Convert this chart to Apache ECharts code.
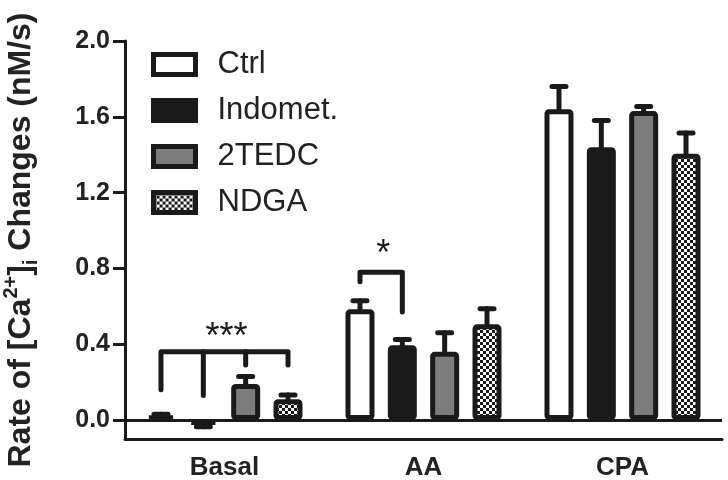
<!DOCTYPE html>
<html>
<head>
<meta charset="utf-8">
<script src="https://cdn.jsdelivr.net/npm/echarts@6/dist/echarts.min.js"></script>
<style>html,body{margin:0;padding:0;background:#fff}#c{width:728px;height:480px}</style>
</head>
<body>
<div id="c"></div>
<script>
// ---- data ----
const categories = ['Basal', 'AA', 'CPA'];
const seriesNames = ['Ctrl', 'Indomet.', '2TEDC', 'NDGA'];
const ctrl = [0.025, 0.585, 1.64];
const ctrlErr = [0.005, 0.045, 0.12];
const indomet = [-0.025, 0.395, 1.44];
const indometErr = [0.01, 0.03, 0.14];
const tedc = [0.19, 0.36, 1.63];
const tedcErr = [0.04, 0.1, 0.025];
const ndga = [0.11, 0.505, 1.405];
const ndgaErr = [0.022, 0.082, 0.11];
const yTicks = [0.0, 0.4, 0.8, 1.2, 1.6, 2.0];
// significance brackets (category, bar indices, heights in data units)
const brackets = [
  { cat: 0, y: 0.36, legs: [[0, 0.16], [1, 0.13], [2, 0.29], [3, 0.29]], label: '***', labelY: 0.43 },
  { cat: 1, y: 0.78, legs: [[0, 0.73], [1, 0.57]], label: '*', labelY: 0.87 }
];

const values = [ctrl, indomet, tedc, ndga];
const errors = [ctrlErr, indometErr, tedcErr, ndgaErr];

// ---- styles ----
const INK = '#1a1a1a';
const BW = 29, GAP = 46; // bar width px, bar gap %
const STEP = BW * (1 + GAP / 100);
const FONT = 'Liberation Sans, Arial, sans-serif';

const pat = document.createElement('canvas');
pat.width = 6; pat.height = 6;
const pc = pat.getContext('2d');
pc.fillStyle = '#fff'; pc.fillRect(0, 0, 6, 6);
pc.fillStyle = '#1a1a1a'; pc.fillRect(0, 0, 3, 3); pc.fillRect(3, 3, 3, 3);

const fills = ['#ffffff', INK, '#7c7c7c', { image: pat, repeat: 'repeat' }];

const barSeries = seriesNames.map((n, i) => ({
  name: n,
  type: 'bar',
  data: values[i],
  barWidth: BW,
  barGap: GAP + '%',
  itemStyle: { color: fills[i], borderColor: INK, borderWidth: 5, borderRadius: 2 },
  z: 3,
  markLine: i === 0 ? {
    silent: true, symbol: ['none', 'none'], label: { show: false },
    lineStyle: { color: INK, width: 3, type: 'solid' },
    data: [{ yAxis: 0 }]
  } : undefined
}));

const errData = [];
values.forEach((arr, s) => arr.forEach((v, c) => errData.push([c, s, v, errors[s][c]])));

const errSeries = {
  type: 'custom',
  z: 2,
  silent: true,
  encode: { x: 0, y: 2 },
  data: errData,
  renderItem: function (params, api) {
    const c = api.value(0), s = api.value(1), v = api.value(2), e = api.value(3);
    const dir = v >= 0 ? 1 : -1;
    const p0 = api.coord([c, v]);
    const p1 = api.coord([c, v + dir * e]);
    const x = p0[0] + (s - 1.5) * STEP;
    const st = { stroke: INK, lineWidth: 5, lineCap: 'round' };
    return {
      type: 'group',
      children: [
        { type: 'line', shape: { x1: x, y1: p0[1], x2: x, y2: p1[1] }, style: st },
        { type: 'line', shape: { x1: x - 7, y1: p1[1], x2: x + 7, y2: p1[1] }, style: st }
      ]
    };
  }
};

const brSeries = {
  type: 'custom',
  z: 4,
  silent: true,
  encode: { x: 0, y: 1 },
  data: brackets.map(b => [b.cat, b.y]),
  renderItem: function (params, api) {
    const b = brackets[params.dataIndex];
    const base = api.coord([b.cat, b.y]);
    const xs = b.legs.map(l => base[0] + (l[0] - 1.5) * STEP);
    const st = { stroke: INK, lineWidth: 5, lineCap: 'round', lineJoin: 'round', fill: null };
    const children = [];
    const first = b.legs[0], last = b.legs[b.legs.length - 1];
    children.push({
      type: 'polyline',
      shape: { points: [[xs[0], api.coord([b.cat, first[1]])[1]], [xs[0], base[1]], [xs[xs.length - 1], base[1]], [xs[xs.length - 1], api.coord([b.cat, last[1]])[1]]] },
      style: st
    });
    for (let k = 1; k < b.legs.length - 1; k++) {
      children.push({
        type: 'line',
        shape: { x1: xs[k], y1: base[1], x2: xs[k], y2: api.coord([b.cat, b.legs[k][1]])[1] },
        style: st
      });
    }
    const ly = api.coord([b.cat, b.labelY])[1];
    children.push({
      type: 'text',
      style: { text: b.label, x: (xs[0] + xs[xs.length - 1]) / 2 + 2, y: ly, align: 'center', verticalAlign: 'middle', fontSize: 36, fontFamily: FONT, fill: INK }
    });
    return { type: 'group', children };
  }
};

const chart = echarts.init(document.getElementById('c'), null, { renderer: 'canvas' });
chart.setOption({
  animation: false,
  backgroundColor: '#fff',
  grid: { left: 125, right: 6, top: 41, bottom: 41, containLabel: false, outerBoundsMode: 'none' },
  legend: {
    data: seriesNames,
    orient: 'vertical',
    left: 151, top: 49, padding: 0,
    itemWidth: 42, itemHeight: 20, itemGap: 15,
    icon: 'rect',
    itemStyle: { borderWidth: 5, borderColor: INK },
    textStyle: { fontFamily: FONT, fontSize: 31, color: '#222', padding: [0, 0, 0, 17] }
  },
  xAxis: {
    type: 'category',
    data: categories,
    axisLine: { onZero: false, lineStyle: { color: INK, width: 3 } },
    axisTick: { alignWithLabel: true, length: 12, lineStyle: { color: INK, width: 3 } },
    axisLabel: { fontFamily: FONT, fontWeight: 'bold', fontSize: 26, color: '#222', margin: 16 },
    splitLine: { show: false }
  },
  yAxis: {
    type: 'value',
    min: -0.1, max: 2.0,
    name: 'Rate of [Ca{sup|2+}]{sub|i} Changes (nM/s)',
    nameLocation: 'middle',
    nameRotate: 90,
    nameGap: 84,
    nameTextStyle: {
      fontFamily: FONT, fontWeight: 'bold', fontSize: 32, color: '#222', lineHeight: 40,
      rich: {
        sup: { fontFamily: FONT, fontWeight: 'bold', fontSize: 20, color: '#222', verticalAlign: 'top', lineHeight: 40, padding: [0, 0, 10, 0] },
        sub: { fontFamily: FONT, fontWeight: 'bold', fontSize: 20, color: '#222', verticalAlign: 'bottom', lineHeight: 40, padding: [8, 0, 0, 0] }
      }
    },
    axisLine: { show: true, lineStyle: { color: INK, width: 3 } },
    axisTick: { show: true, length: 12, customValues: yTicks, lineStyle: { color: INK, width: 3 } },
    axisLabel: { customValues: yTicks, fontFamily: FONT, fontWeight: 'bold', fontSize: 25, color: '#222', margin: 15, formatter: v => v.toFixed(1) },
    splitLine: { show: false }
  },
  series: [...barSeries, errSeries, brSeries]
});
</script>
</body>
</html>
